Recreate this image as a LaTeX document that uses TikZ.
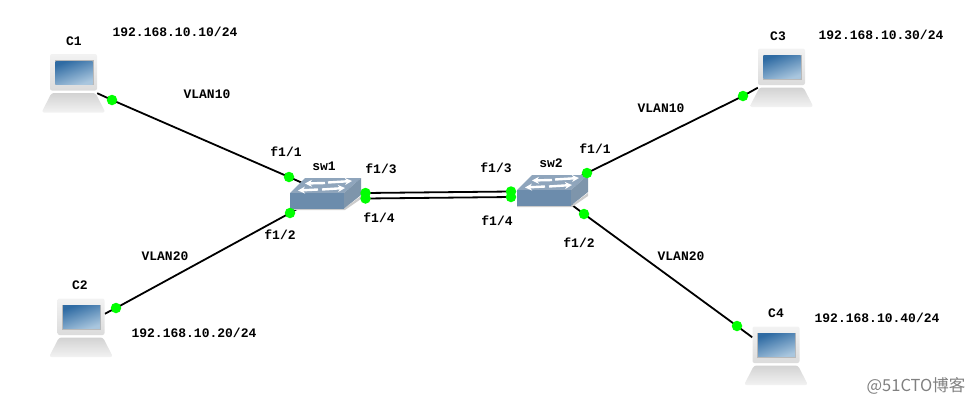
\documentclass[tikz,border=0pt]{standalone}
\usepackage{fontspec}
\setmainfont{Liberation Mono}
\newfontfamily\cjk{Noto Sans CJK SC}
\usetikzlibrary{arrows.meta,backgrounds}
\definecolor{portgreen}{HTML}{00FF00}
\definecolor{swtop}{HTML}{8FA5BC}
\definecolor{swfront}{HTML}{6C8CAC}
\definecolor{swside}{HTML}{7E95AB}
\definecolor{scrdark}{HTML}{2F6BA3}
\definecolor{scrlight}{HTML}{A9C6DE}
\tikzset{
  pc style/.style={minimum width=47pt, minimum height=39pt, inner sep=0pt},
  sw style/.style={minimum width=70pt, minimum height=30pt, inner sep=0pt},
  port style/.style={circle, fill=portgreen, inner sep=0pt, minimum size=10.5pt},
  lbl style/.style={inner sep=0pt, font=\fontsize{13}{13}\selectfont\bfseries},
  wire style/.style={line width=1.8pt, black},
  arr style/.style={-{Stealth[length=7pt,width=7pt]}, white, line width=2.4pt},
  pics/laptop/.style={code={
    \shade[top color=gray!35, bottom color=gray!10, rounded corners=2.5pt]
      (-22,19.5) -- (22,19.5) -- (32,39) -- (-32,39) -- cycle;
    \shade[top color=gray!10, bottom color=gray!28, rounded corners=2pt]
      (-23.5,-19.5) rectangle (23.5,17);
    \fill[gray!55] (-19,-13.5) rectangle (20,11.5);
    \shade[left color=scrdark, right color=scrlight, shading angle=20]
      (-18,-12.5) rectangle (19,10.5);
  }},
  pics/switchbox/.style={code={
    \fill[gray!40] (-35,15.5) -- (19,15.5) -- (36,3) -- (36,6) -- (20,17) -- (-35,17) -- cycle;
    \fill[swtop] (-35,0) -- (-20,-15) -- (36,-15) -- (19,0) -- cycle;
    \fill[swside] (19,0) -- (36,-15) -- (36,2) -- (19,15.5) -- cycle;
    \fill[swfront] (-35,0) rectangle (19,15.5);
    \draw[arr style] (0,-10) -- (-20,-9.5);
    \draw[arr style] (3,-10.5) -- (27,-12);
    \draw[arr style] (-7,-3.5) -- (-27,-2.5);
    \draw[arr style] (-3,-3.5) -- (20,-5);
  }}
}
\begin{document}
\begin{tikzpicture}[x=1pt,y=-1pt]
\useasboundingbox (0,0) rectangle (977,405);
% computers
\node[pc style] (c1) at (73.5,73.5) {};
\node[pc style] (c2) at (81,318) {};
\node[pc style] (c3) at (781.5,68) {};
\node[pc style] (c4) at (776,346) {};
\pic at (c1) {laptop};
\pic at (c2) {laptop};
\pic at (c3) {laptop};
\pic at (c4) {laptop};
% switches
\node[sw style] (sw1) at (325,193) {};
\node[sw style] (sw2) at (552,190) {};
\pic at (sw1) {switchbox};
\pic at (sw2) {switchbox};
% ports
\node[port style] (pc1) at (112,100) {};
\node[port style] (pc2) at (116,308) {};
\node[port style] (pc3) at (743,96) {};
\node[port style] (pc4) at (737,326) {};
\node[port style] (s11) at (289,177) {};
\node[port style] (s12) at (290,213) {};
\node[port style] (s13) at (365.5,193) {};
\node[port style] (s14) at (365.5,198.5) {};
\node[port style] (s21) at (587,173) {};
\node[port style] (s22) at (584,214) {};
\node[port style] (s23) at (511,191.5) {};
\node[port style] (s24) at (511,197) {};
% links
\begin{scope}[on background layer]
\draw[wire style] (c1.south east)--(pc1.center)--(s11.center)--(sw1.center);
\draw[wire style] (c2.10)--(pc2.center)--(s12.center)--(sw1.center);
\draw[wire style] (c3.south west)--(pc3.center)--(s21.center)--(sw2.center);
\draw[wire style] (c4.160)--(pc4.center)--(s22.center)--(sw2.center);
\draw[wire style] (s13.center)--(s23.center);
\draw[wire style] (s14.center)--(s24.center);
\end{scope}
% labels
\node[lbl style] (nc1) at (74,41) {C1};
\node[lbl style] (nc2) at (80,285) {C2};
\node[lbl style] (nc3) at (778,36) {C3};
\node[lbl style] (nc4) at (776,313) {C4};
\node[lbl style] (ip1) at (175,32) {192.168.10.10/24};
\node[lbl style] (ip2) at (194,333) {192.168.10.20/24};
\node[lbl style] (ip3) at (881,35) {192.168.10.30/24};
\node[lbl style] (ip4) at (877,318) {192.168.10.40/24};
\node[lbl style] (v1) at (207,94) {VLAN10};
\node[lbl style] (v2) at (165,256) {VLAN20};
\node[lbl style] (v3) at (661,108) {VLAN10};
\node[lbl style] (v4) at (681,256) {VLAN20};
\node[lbl style] (nsw1) at (324,166) {sw1};
\node[lbl style] (nsw2) at (551,163) {sw2};
\node[lbl style] (l11) at (286,152) {f1/1};
\node[lbl style] (l12) at (280,235) {f1/2};
\node[lbl style] (l13) at (381,169) {f1/3};
\node[lbl style] (l14) at (379,218) {f1/4};
\node[lbl style] (l21) at (595,149) {f1/1};
\node[lbl style] (l22) at (579,243) {f1/2};
\node[lbl style] (l23) at (496,168) {f1/3};
\node[lbl style] (l24) at (497,221) {f1/4};
\node[text=gray, font=\fontsize{16.5}{16.5}\selectfont\cjk] (mark) at (916,386) {@51CTO博客};
\end{tikzpicture}
\end{document}
